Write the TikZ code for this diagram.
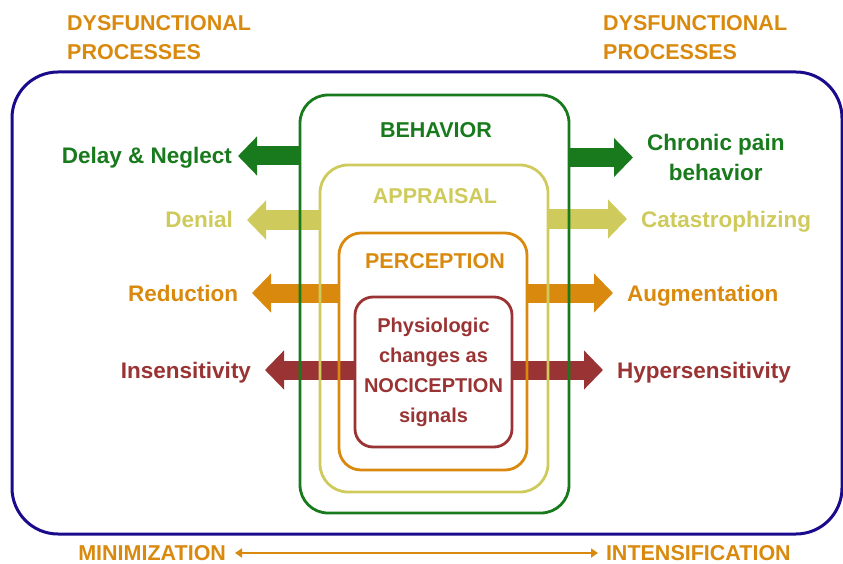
\documentclass[tikz,border=0pt]{standalone}
\usepackage{fontspec}
\setmainfont{Liberation Sans}
\usetikzlibrary{
    arrows.meta,
    positioning,
    backgrounds,
}
\definecolor{painnavy}{HTML}{1A0A8C}
\definecolor{behgreen}{HTML}{187A1C}
\definecolor{appyellow}{HTML}{CECB5C}
\definecolor{perorange}{HTML}{D98A0E}
\definecolor{nocired}{HTML}{9A3333}

\begin{document}
\begin{tikzpicture}[
    x=1pt, y=-1pt,
    frame/.style  = {rectangle, draw, line width=2.8pt, inner sep=0pt},
    lbl/.style    = {font=\fontsize{22.5}{30}\selectfont\bfseries,
                     inner sep=0pt, outer sep=14pt},
    tag/.style    = {lbl, text height=16pt, text depth=0pt},
    captag/.style = {tag, font=\fontsize{21.5}{30}\selectfont\bfseries,
                     text height=15.4pt},
    ttl/.style    = {font=\fontsize{21.5}{29}\selectfont\bfseries,
                     inner sep=0pt, align=left, perorange},
    blk/.style    = {line width=19pt,
                     -{Triangle[length=19pt, width=38pt]}},
]
\useasboundingbox (0,0) rectangle (843,564);

%% ── Nested boxes ─────────────────────────────────────────────────────────────
\node[frame, draw=painnavy, line width=3pt, rounded corners=46pt,
      minimum width=830pt, minimum height=462pt] (outer) at (427,303) {};
\node[frame, draw=behgreen, rounded corners=28pt,
      minimum width=269pt, minimum height=418pt] (behav) at (434.5,304) {};
\node[frame, draw=appyellow, rounded corners=28pt,
      minimum width=228pt, minimum height=327pt] (apprais) at (434,328.5) {};
\node[frame, draw=perorange, rounded corners=22pt,
      minimum width=188pt, minimum height=237pt] (percep) at (433,351.5) {};
\node[frame, draw=nocired, rounded corners=18pt, text=nocired, align=center,
      font=\fontsize{20}{30}\selectfont\bfseries,
      minimum width=157pt, minimum height=150pt] (noci) at (433.5,372)
    {Physiologic\\changes as\\NOCICEPTION\\signals};

%% ── Box titles ───────────────────────────────────────────────────────────────
\node[captag, behgreen]  (behavt)   at (436,130) {BEHAVIOR};
\node[captag, appyellow] (appraist) at (435,196) {APPRAISAL};
\node[captag, perorange] (percept)  at (435,261) {PERCEPTION};

%% ── Left labels ──────────────────────────────────────────────────────────────
\node[tag, behgreen, anchor=east, outer sep=6pt] (delay) at (238,156) {Delay \& Neglect};
\node[tag, appyellow, anchor=east] (denial) at (247,220) {Denial};
\node[tag, perorange, anchor=east] (reduct) at (252,293) {Reduction};
\node[tag, nocired,   anchor=east] (insens) at (265,370) {Insensitivity};

%% ── Right labels ─────────────────────────────────────────────────────────────
\node[lbl, behgreen, anchor=west, align=center] (chronic) at (633,157.5)
    {Chronic pain\\behavior};
\node[tag, appyellow, anchor=west] (catas)   at (627,219) {Catastrophizing};
\node[tag, perorange, anchor=west] (augment) at (613,293) {Augmentation};
\node[tag, nocired,   anchor=west] (hyper)   at (603,370) {Hypersensitivity};

%% ── Block arrows (under the boxes) ───────────────────────────────────────────
\begin{scope}[on background layer]
\draw[blk, behgreen]  (behav.west |- delay.east)    -- (delay.east);
\draw[blk, behgreen]  (behav.east |- chronic.west)  -- (chronic.west);
\draw[blk, appyellow] (apprais.west |- denial.east) -- (denial.east);
\draw[blk, appyellow] (apprais.east |- catas.west)  -- (catas.west);
\draw[blk, perorange] (percep.west |- reduct.east)  -- (reduct.east);
\draw[blk, perorange] (percep.east |- augment.west) -- (augment.west);
\draw[blk, nocired]   (noci.west |- insens.east)    -- (insens.east);
\draw[blk, nocired]   (noci.east |- hyper.west)     -- (hyper.west);
\end{scope}

%% ── Titles top ───────────────────────────────────────────────────────────────
\node[ttl, anchor=north west] (dysleft)  at (67,15)  {DYSFUNCTIONAL\\PROCESSES};
\node[ttl, anchor=north west] (dysright) at (603,15) {DYSFUNCTIONAL\\PROCESSES};

%% ── Scale bottom ─────────────────────────────────────────────────────────────
\node[captag, perorange, anchor=east, outer sep=0pt] (minim)  at (226,553) {MINIMIZATION};
\node[captag, perorange, anchor=west, outer sep=0pt] (intens) at (606,553) {INTENSIFICATION};
\draw[perorange, line width=2.6pt,
      {Triangle[length=7pt, width=9pt]}-{Triangle[length=7pt, width=9pt]},
      shorten <=9pt, shorten >=8pt] (minim) -- (intens);

\end{tikzpicture}
\end{document}
